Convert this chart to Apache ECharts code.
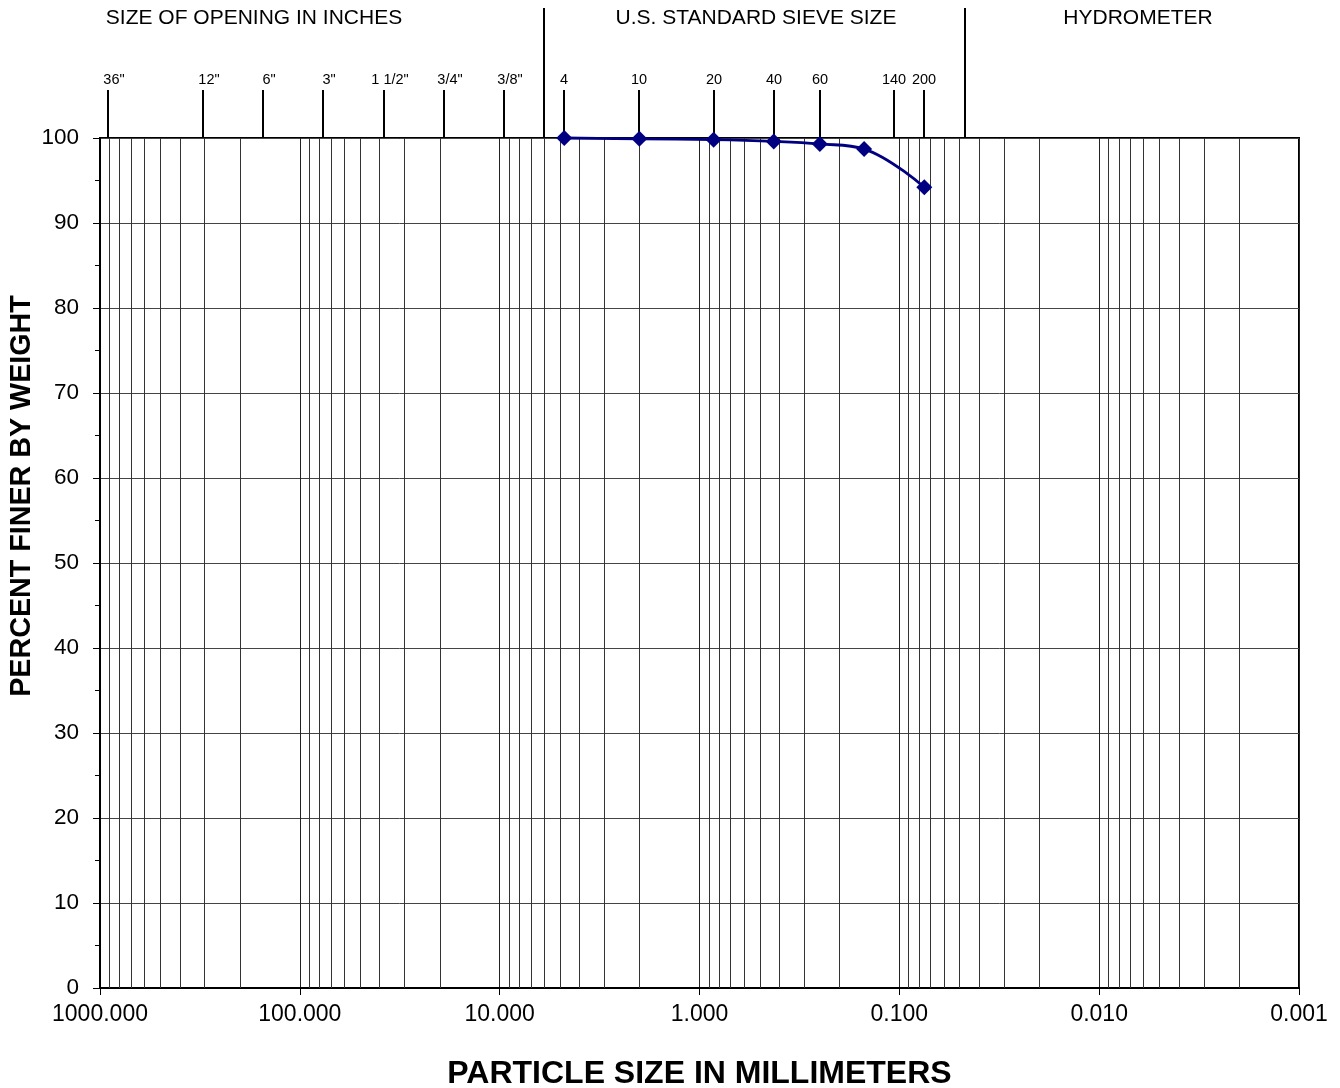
<!DOCTYPE html>
<html>
<head>
<meta charset="utf-8">
<script src="https://cdn.jsdelivr.net/npm/echarts@6/dist/echarts.min.js"></script>
<style>
html,body{margin:0;padding:0;background:#fff;}
#chart{width:1340px;height:1088px;}
</style>
</head>
<body>
<div id="chart"></div>
<script>
// ---- data ----
const particleSizes = [4.75, 2.0, 0.85, 0.425, 0.25, 0.15, 0.075];     // mm
const percentFiner  = [100, 99.9, 99.8, 99.6, 99.3, 98.7, 94.2];        // %
const sieveSizes  = [914.4, 304.8, 152.4, 76.2, 38.1, 19.05, 9.525, 4.75, 2.0, 0.85, 0.425, 0.25, 0.106, 0.075];
const sieveLabels = ['36"', '12"', '6"', '3"', '1 1/2"', '3/4"', '3/8"', '4', '10', '20', '40', '60', '140', '200'];
const dividerSizes = [6.03, 0.0468];
const headerLabels = ['SIZE OF OPENING IN INCHES', 'U.S. STANDARD SIEVE SIZE', 'HYDROMETER'];
const yTitle = 'PERCENT FINER BY WEIGHT';
const xTitle = 'PARTICLE SIZE IN MILLIMETERS';
const decades = [1000, 100, 10, 1, 0.1, 0.01, 0.001];

// minor vertical grid lines (2..9 within each decade)
const minorGrid = [];
for (let d = 0; d < decades.length - 1; d++) {
  const base = decades[d + 1];
  for (let m = 2; m <= 9; m++) minorGrid.push(base * m);
}

const FONT = "'Liberation Sans', Arial, Helvetica, sans-serif";
const chart = echarts.init(document.getElementById('chart'));

const crisp = v => Math.round(v) + 0.5;

const graphics = headerLabels.map((t, i) => ({
  type: 'text', x: [254, 756, 1138][i], y: 18, z: 10,
  style: { text: t, fill: '#000', font: '21px ' + FONT, textAlign: 'center', textVerticalAlign: 'middle' }
}));
graphics.push({
  type: 'text', x: 22, y: 496, rotation: Math.PI / 2, z: 10,
  style: { text: yTitle, fill: '#000', font: 'bold 28.7px ' + FONT, textAlign: 'center', textVerticalAlign: 'middle' }
});

chart.setOption({
  animation: false,
  backgroundColor: '#fff',
  textStyle: { fontFamily: FONT },
  grid: {
    left: 100, right: 41, top: 138, bottom: 100,
    containLabel: false, outerBoundsMode: 'none',
    show: true, borderColor: '#000', borderWidth: 2, backgroundColor: 'transparent'
  },
  xAxis: {
    type: 'log', logBase: 10, min: 0.001, max: 1000, inverse: true, splitNumber: 6,
    name: xTitle, nameLocation: 'middle', nameGap: 70,
    nameTextStyle: { fontSize: 32, fontWeight: 'bold', color: '#000', fontFamily: FONT },
    axisLine: { show: true, lineStyle: { color: '#000', width: 2 } },
    axisTick: { show: true, length: 7, lineStyle: { color: '#000', width: 1 } },
    axisLabel: { fontSize: 23, color: '#000', margin: 15, fontFamily: FONT,
      formatter: v => Number(v).toFixed(3) },
    splitLine: { show: true, lineStyle: { color: '#222', width: 1 } }
  },
  yAxis: {
    type: 'value', min: 0, max: 100, interval: 10,
    axisLine: { show: true, lineStyle: { color: '#000', width: 2 } },
    axisTick: { show: true, length: 7, lineStyle: { color: '#000', width: 1 } },
    minorTick: { show: true, splitNumber: 2, length: 5, lineStyle: { color: '#000', width: 1 } },
    axisLabel: { fontSize: 22.5, color: '#000', margin: 21, fontFamily: FONT },
    splitLine: { show: true, lineStyle: { color: '#444', width: 1 } }
  },
  graphic: graphics,
  series: [
    {
      type: 'custom', name: 'minorGrid', silent: true, z: 1,
      data: minorGrid.map(v => [v, 0]),
      renderItem: (params, api) => {
        const p0 = api.coord([api.value(0), 0]);
        const p1 = api.coord([api.value(0), 100]);
        const x = crisp(p0[0]);
        return { type: 'line', shape: { x1: x, y1: p0[1], x2: x, y2: p1[1] },
          style: { stroke: '#333', lineWidth: 1 } };
      }
    },
    {
      type: 'custom', name: 'sieveTicks', silent: true, z: 5,
      data: sieveSizes.map(v => [v, 100]),
      renderItem: (params, api) => {
        const p = api.coord([api.value(0), 100]);
        const x = Math.round(p[0]);
        const dx = params.dataIndex < 7 ? 6 : 0;
        return { type: 'group', children: [
          { type: 'line', shape: { x1: x, y1: p[1], x2: x, y2: p[1] - 48 },
            style: { stroke: '#000', lineWidth: 2 } },
          { type: 'text', x: x + dx, y: p[1] - 58,
            style: { text: sieveLabels[params.dataIndex], fill: '#000', font: '14.5px ' + FONT,
              textAlign: 'center', textVerticalAlign: 'middle' } }
        ] };
      }
    },
    {
      type: 'custom', name: 'dividers', silent: true, z: 5,
      data: dividerSizes.map(v => [v, 100]),
      renderItem: (params, api) => {
        const p = api.coord([api.value(0), 100]);
        const x = Math.round(p[0]);
        return { type: 'line', shape: { x1: x, y1: p[1], x2: x, y2: 8 },
          style: { stroke: '#000', lineWidth: 2 } };
      }
    },
    {
      type: 'line', name: 'Sample', z: 8,
      data: particleSizes.map((s, i) => [s, percentFiner[i]]),
      smooth: 0.4,
      symbol: 'diamond', symbolSize: 16, showAllSymbol: true,
      lineStyle: { color: '#000080', width: 2.8 },
      itemStyle: { color: '#000080' },
      clip: false
    }
  ]
});
</script>
</body>
</html>
